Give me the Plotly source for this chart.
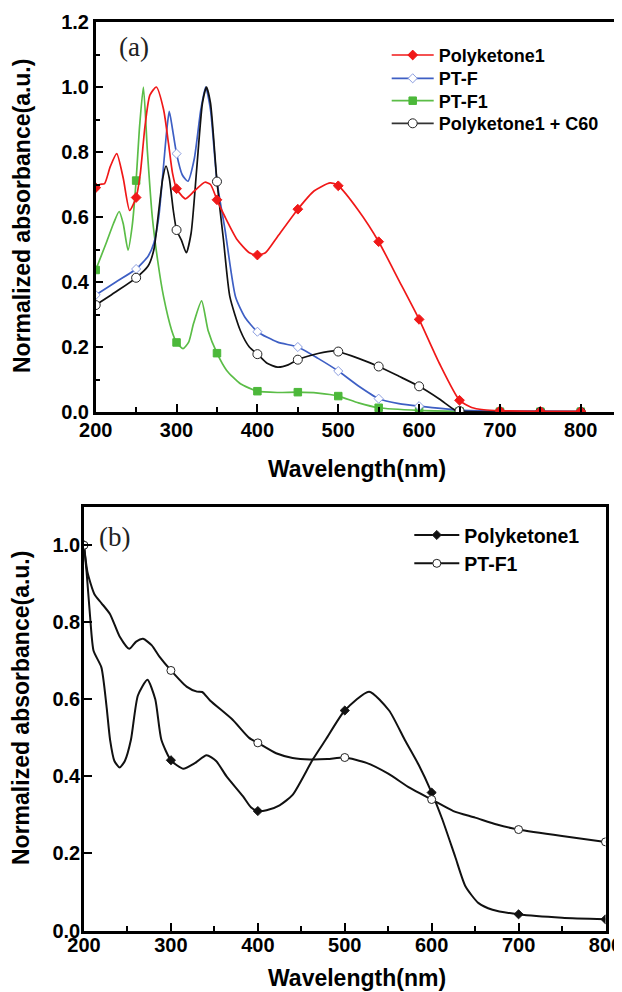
import plotly.graph_objects as go

# ---- panel (a): normalized UV-vis absorbance ----
pk1_wl = [200, 205, 211, 218, 226, 234, 242, 250, 255, 261, 267, 275, 284, 290, 295, 300, 311, 322, 335, 342,
          350, 360, 375, 390, 400, 410, 425, 450, 470, 490, 500, 525, 550, 575, 600, 625, 650, 665, 680, 700, 750, 800]
pk1_abs = [0.69, 0.70, 0.703, 0.755, 0.795, 0.72, 0.62, 0.66, 0.73, 0.88, 0.975, 1.0, 0.93, 0.827, 0.735, 0.687,
           0.656, 0.68, 0.707, 0.70, 0.653, 0.60, 0.53, 0.49, 0.483, 0.49, 0.54, 0.624, 0.68, 0.705, 0.696, 0.62,
           0.524, 0.405, 0.285, 0.15, 0.036, 0.014, 0.007, 0.004, 0.002, 0.002]

ptf_wl = [200, 225, 250, 265, 272, 278, 284, 288, 291, 295, 300, 307, 314, 322, 330, 336, 342, 350, 360, 373,
          385, 400, 425, 450, 475, 500, 525, 550, 575, 600, 650, 700, 750, 800]
ptf_abs = [0.36, 0.40, 0.44, 0.48, 0.52, 0.60, 0.76, 0.87, 0.925, 0.87, 0.795, 0.73, 0.71, 0.78, 0.93, 1.0, 0.93,
           0.71, 0.56, 0.354, 0.29, 0.247, 0.215, 0.20, 0.165, 0.126, 0.08, 0.041, 0.026, 0.018, 0.006, 0.003,
           0.003, 0.002]

ptf1_wl = [200, 213, 222, 229, 234, 240, 245, 250, 254, 259, 264, 270, 277, 284, 294, 300, 308, 315, 321, 331,
           339, 350, 362, 379, 400, 425, 450, 475, 500, 525, 550, 600, 650, 700, 750, 800]
ptf1_abs = [0.437, 0.52, 0.58, 0.617, 0.58, 0.498, 0.57, 0.712, 0.87, 1.0, 0.80, 0.60, 0.46, 0.354, 0.251, 0.214,
            0.195, 0.215, 0.272, 0.342, 0.251, 0.181, 0.128, 0.087, 0.064, 0.06, 0.061, 0.058, 0.049, 0.028, 0.013,
            0.005, 0.002, 0.001, 0.001, 0.001]

c60_wl = [200, 225, 250, 265, 272, 278, 283, 287, 291, 296, 300, 306, 312, 318, 325, 332, 337, 342, 350, 358,
          366, 379, 390, 400, 412, 425, 438, 450, 475, 495, 500, 525, 550, 575, 600, 625, 645, 650, 700, 750, 800]
c60_abs = [0.329, 0.37, 0.413, 0.45, 0.50, 0.62, 0.72, 0.757, 0.72, 0.62, 0.56, 0.529, 0.49, 0.55, 0.75, 0.95,
           1.0, 0.95, 0.709, 0.53, 0.354, 0.25, 0.20, 0.178, 0.15, 0.138, 0.145, 0.161, 0.18, 0.188, 0.186, 0.165,
           0.14, 0.11, 0.079, 0.04, 0.005, 0.003, 0.0, 0.0, 0.0]

# ---- panel (b) ----
b_pk1_wl = [200, 203, 207, 211, 220, 226, 230, 235, 241, 247, 254, 262, 273, 282, 289, 300, 314, 328, 341, 352,
            364, 383, 392, 400, 410, 425, 440, 463, 478, 500, 528, 551, 569, 585, 600, 612, 627, 639, 654, 670, 700,
            750, 800]
b_pk1_abs = [1.0, 0.93, 0.815, 0.726, 0.683, 0.58, 0.495, 0.44, 0.423, 0.44, 0.495, 0.61, 0.651, 0.60, 0.495,
             0.442, 0.42, 0.435, 0.455, 0.44, 0.40, 0.348, 0.32, 0.31, 0.312, 0.325, 0.352, 0.443, 0.495, 0.571,
             0.62, 0.571, 0.495, 0.43, 0.358, 0.29, 0.192, 0.114, 0.071, 0.054, 0.042, 0.033, 0.029]

b_ptf1_wl = [200, 204, 212, 220, 230, 241, 252, 260, 268, 278, 287, 300, 318, 330, 336, 345, 371, 390, 400, 421,
             440, 460, 480, 500, 525, 550, 575, 600, 625, 650, 675, 700, 750, 800]
b_ptf1_abs = [1.0, 0.93, 0.873, 0.85, 0.821, 0.763, 0.731, 0.75, 0.757, 0.74, 0.71, 0.675, 0.633, 0.62, 0.619,
              0.597, 0.547, 0.50, 0.487, 0.46, 0.448, 0.444, 0.445, 0.449, 0.435, 0.407, 0.37, 0.34, 0.31, 0.293,
              0.275, 0.262, 0.245, 0.23]

FONT = "Liberation Sans, Arial, sans-serif"

# page body adds an 8px margin, so the figure is a bit smaller and positions are shifted
OFF, W, H = 8, 614, 984


def px(X):
    return (X - OFF) / W


def py(Y):
    return 1 - (Y - OFF) / H


fig = go.Figure()


def add_series(wl, ab, color, symbol, size, fill, edge, xa, ya, step, width):
    # smooth curve through the read points, markers every `step` nm
    fig.add_trace(go.Scatter(x=wl, y=ab, mode="lines", line=dict(color=color, width=width, shape="spline", smoothing=0.6),
                             xaxis=xa, yaxis=ya, showlegend=False, hoverinfo="skip"))
    mx = [w for w in wl if w % step == 0]
    my = [a for w, a in zip(wl, ab) if w % step == 0]
    fig.add_trace(go.Scatter(x=mx, y=my, mode="markers", xaxis=xa, yaxis=ya, showlegend=False,
                             marker=dict(symbol=symbol, size=size, color=fill, line=dict(color=edge, width=1))))


# panel (a) traces
add_series(ptf1_wl, ptf1_abs, "#5bbd47", "square", 7.5, "#4cb83a", "#4cb83a", "x", "y", 50, 1.7)
add_series(ptf_wl, ptf_abs, "#3e5fc4", "diamond", 7, "white", "#8c9ee0", "x", "y", 50, 1.7)
add_series(c60_wl, c60_abs, "#111111", "circle", 9, "white", "#222222", "x", "y", 50, 1.7)
add_series(pk1_wl, pk1_abs, "#f01818", "diamond", 7.5, "#f01818", "#f01818", "x", "y", 50, 1.7)

# panel (b) traces
add_series(b_pk1_wl, b_pk1_abs, "#111111", "diamond", 7, "#111111", "#111111", "x2", "y2", 100, 2)
add_series(b_ptf1_wl, b_ptf1_abs, "#111111", "circle", 8, "white", "#222222", "x2", "y2", 100, 2)

# legend entries for (a): one small legend each so the row spacing matches
leg_a = [("Polyketone1", "#f01818", "diamond", 7.5, "#f01818", "#f01818", "legend", 55),
         ("PT-F", "#3e5fc4", "diamond", 7, "white", "#8c9ee0", "legend3", 78.3),
         ("PT-F1", "#5bbd47", "square", 7.5, "#4cb83a", "#4cb83a", "legend4", 100.7),
         ("Polyketone1 + C60", "#333333", "circle", 9, "white", "#222222", "legend5", 123.3)]
leg_layout = {}
for name, col, sym, sz, fill, edge, lg, yc in leg_a:
    fig.add_trace(go.Scatter(x=[None], y=[None], mode="lines+markers", name=name, legend=lg,
                             line=dict(color=col, width=1.7),
                             marker=dict(symbol=sym, size=sz, color=fill, line=dict(color=edge, width=1))))
    leg_layout[lg] = dict(x=px(386.7), y=py(yc - 18.2), xanchor="left", yanchor="top", bgcolor="rgba(0,0,0,0)",
                          itemwidth=42, font=dict(family=FONT, size=18, color="black", weight="bold"))

leg_b = [("Polyketone1", "diamond", 7, "#111111"), ("PT-F1", "circle", 8, "white")]
for name, sym, sz, fill in leg_b:
    fig.add_trace(go.Scatter(x=[None], y=[None], mode="lines+markers", name=name, legend="legend2",
                             xaxis="x2", yaxis="y2", line=dict(color="#111111", width=2),
                             marker=dict(symbol=sym, size=sz, color=fill, line=dict(color="#222222", width=1))))
leg_layout["legend2"] = dict(x=px(409.3), y=py(515.8), xanchor="left", yanchor="top", bgcolor="rgba(0,0,0,0)",
                             itemwidth=45, font=dict(family=FONT, size=19.5, color="black", weight="bold"))

axis_common = dict(showline=True, linecolor="black", linewidth=2.5, mirror=True, ticks="inside",
                   ticklen=8, tickwidth=2, tickcolor="black", showgrid=False, zeroline=False,
                   ticklabeloverflow="allow",
                   tickfont=dict(family=FONT, size=20, color="black", weight="bold"))
minor50 = dict(ticks="inside", ticklen=5, tickwidth=2, dtick=50, tickcolor="black")

fig.update_layout(
    width=W, height=H,
    margin=dict(l=0, r=0, t=0, b=0, autoexpand=False),
    paper_bgcolor="white", plot_bgcolor="white",
    xaxis=dict(domain=[px(95.7), px(618)], anchor="y", range=[200, 846], tick0=200, dtick=100,
               minor=minor50, ticklabelstandoff=-2, **axis_common),
    yaxis=dict(domain=[py(412), py(22)], anchor="x", range=[0, 1.2], dtick=0.2, tickformat=".1f",
               minor=dict(ticks="inside", ticklen=5, tickwidth=2, dtick=0.1, tickcolor="black"), **axis_common),
    xaxis2=dict(domain=[px(84), px(605.5)], anchor="y2", range=[200, 800], tick0=200, dtick=100,
                minor=minor50, ticklabelstandoff=-5, **axis_common),
    yaxis2=dict(domain=[py(930.5), py(506.7)], anchor="x2", range=[0, 1.1], dtick=0.2, tickformat=".1f",
                ticklabelstandoff=-3, **axis_common),
    showlegend=True,
    **leg_layout,
)

title_font = dict(family=FONT, size=23, color="black", weight="bold")
ann = dict(xref="paper", yref="paper", showarrow=False, xanchor="center", yanchor="middle")
fig.add_annotation(text="Normalized absorbance(a.u.)", x=px(22), y=py(216), textangle=-90, font=title_font, **ann)
fig.add_annotation(text="Wavelength(nm)", x=px(357), y=py(468.5), font=title_font, **ann)
fig.add_annotation(text="Normalized absorbance(a.u.)", x=px(21), y=py(708), textangle=-90, font=title_font, **ann)
fig.add_annotation(text="Wavelength(nm)", x=px(357), y=py(978), font=title_font, **ann)
serif = dict(family="Liberation Serif, Times New Roman, serif", size=27, color="#222222")
fig.add_annotation(text="(a)", x=px(134), y=py(47), font=serif, **ann)
fig.add_annotation(text="(b)", x=px(114.5), y=py(537), font=serif, **ann)

fig.write_html("out.html")
